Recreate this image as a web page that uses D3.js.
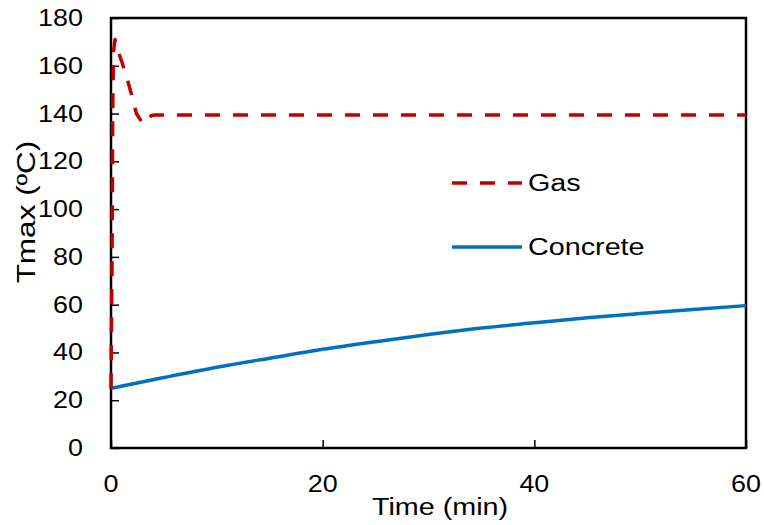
<!DOCTYPE html>
<html>
<head>
<meta charset="utf-8">
<script src="https://cdn.jsdelivr.net/npm/d3@7"></script>
<style>
  html, body { margin: 0; padding: 0; background: #fff; }
  svg text { font-family: "Liberation Sans", Arial, sans-serif; fill: #000; }
</style>
</head>
<body>
<svg id="chart" width="764" height="525"></svg>
<script>
// ---- data ----
const gasTime  = [0, 0.1, 0.16, 0.24, 0.38, 0.6, 1.0, 1.5, 2.0, 2.4, 2.9, 3.3, 3.8, 4.2, 10, 20, 30, 40, 50, 60];
const gasTmax  = [25, 80, 140, 166, 171, 167, 162, 155, 147, 140, 136.5, 135.8, 139.2, 139.4, 139.4, 139.4, 139.4, 139.4, 139.4, 139.4];
const concTime = [0, 5, 10, 15, 20, 25, 30, 35, 40, 45, 50, 55, 60];
const concTmax = [25, 29.5, 33.8, 37.6, 41.3, 44.5, 47.5, 50.2, 52.4, 54.5, 56.3, 58, 59.6];
const xTicks = [0, 20, 40, 60];
const yTicks = [0, 20, 40, 60, 80, 100, 120, 140, 160, 180];
const seriesNames = ["Gas", "Concrete"];
const seriesColors = ["#C00000", "#0070C0"];

const svg = d3.select("#chart");
const pLeft = 111, pRight = 746, pTop = 18, pBottom = 448;
const x = d3.scaleLinear().domain([0, 60]).range([pLeft, pRight]);
const y = d3.scaleLinear().domain([0, 180]).range([pBottom, pTop]);
const SX = 1.17; // horizontal text stretch
const FS = 23;

// y axis ticks (inside) and labels
const yAxis = d3.axisLeft(y).tickValues(yTicks).tickSize(-8).tickSizeOuter(0).tickFormat(d3.format("d"));
const gy = svg.append("g").attr("transform", `translate(${pLeft},0)`).call(yAxis);
gy.select(".domain").remove();
gy.selectAll("line").attr("stroke", "#000").attr("stroke-width", 1.5);
gy.selectAll("text").remove();
yTicks.forEach(v => {
  svg.append("text")
    .attr("transform", `translate(83,${y(v) + 8}) scale(${SX},1)`)
    .attr("text-anchor", "end").style("font-size", FS + "px").text(v);
});

// x axis ticks (inside) and labels
const xAxis = d3.axisBottom(x).tickValues(xTicks).tickSize(-8).tickSizeOuter(0);
const gx = svg.append("g").attr("transform", `translate(0,${pBottom})`).call(xAxis);
gx.select(".domain").remove();
gx.selectAll("line").attr("stroke", "#000").attr("stroke-width", 1.5);
gx.selectAll("text").remove();
xTicks.forEach(v => {
  svg.append("text")
    .attr("transform", `translate(${x(v)},492) scale(${SX},1)`)
    .attr("text-anchor", "middle").style("font-size", FS + "px").text(v);
});

// frame
svg.append("rect").attr("x", pLeft).attr("y", pTop).attr("width", pRight - pLeft).attr("height", pBottom - pTop)
  .attr("fill", "none").attr("stroke", "#000").attr("stroke-width", 2.5);

// axis titles
svg.append("text").attr("transform", `translate(440,515) scale(1.25,1)`)
  .attr("text-anchor", "middle").style("font-size", FS + "px").text("Time (min)");
svg.append("text").attr("transform", `translate(35,212) rotate(-90) scale(1.37,1.1)`)
  .attr("text-anchor", "middle").style("font-size", "23px").text("Tmax (ºC)");

// lines
const concData = concTime.map((t, i) => [t, concTmax[i]]);
const gasData = gasTime.map((t, i) => [t, gasTmax[i]]);
svg.append("path").datum(concData)
  .attr("d", d3.line().x(d => x(d[0])).y(d => y(d[1])).curve(d3.curveMonotoneX))
  .attr("fill", "none").attr("stroke", seriesColors[1]).attr("stroke-width", 3.5);
svg.append("path").datum(gasData)
  .attr("d", d3.line().x(d => x(d[0])).y(d => y(d[1])))
  .attr("fill", "none").attr("stroke", seriesColors[0]).attr("stroke-width", 3.5)
  .attr("stroke-dasharray", "15,13").attr("stroke-linejoin", "round");

// legend
const legY = [183, 247];
seriesNames.forEach((name, i) => {
  svg.append("line").attr("x1", 452).attr("x2", 522).attr("y1", legY[i]).attr("y2", legY[i])
    .attr("stroke", seriesColors[i]).attr("stroke-width", 3.5)
    .attr("stroke-dasharray", i === 0 ? "15,13" : null);
  svg.append("text").attr("transform", `translate(528,${legY[i] + 8}) scale(1.25,1)`)
    .style("font-size", FS + "px").text(name);
});
</script>
</body>
</html>
